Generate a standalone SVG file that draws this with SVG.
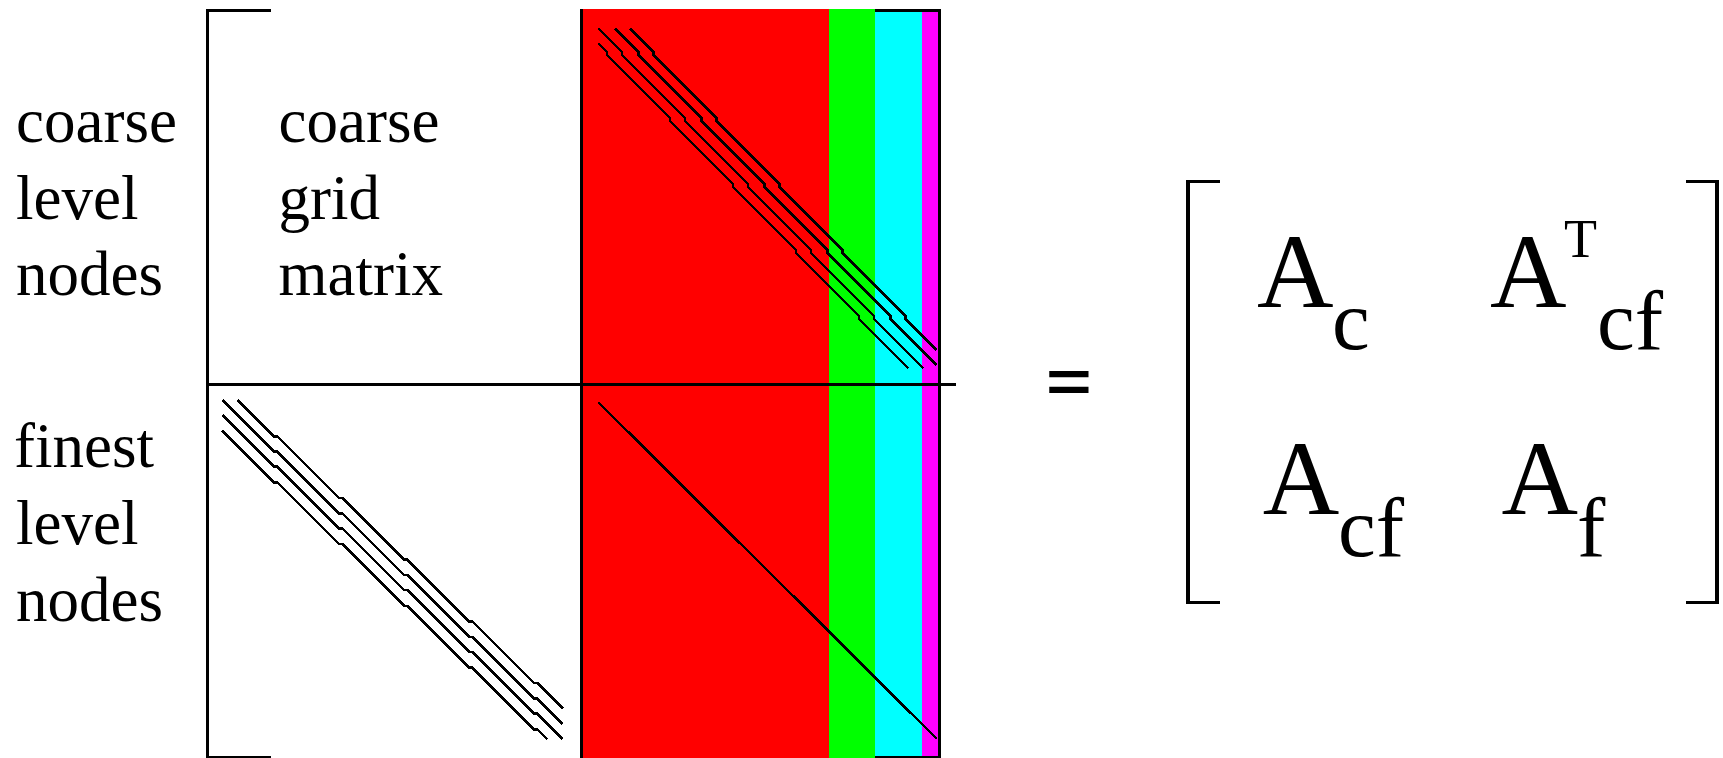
<svg xmlns="http://www.w3.org/2000/svg" width="1723" height="758" viewBox="0 0 1723 758">
<style>
text{font-family:'Liberation Serif','Times New Roman',serif;fill:#000}
.lbl{font-size:63px}
.big{font-size:106px}
.sub{font-size:85px}
.sup{font-size:54px}
.ln{stroke:#000;stroke-width:3;fill:none;shape-rendering:crispEdges}
.br{stroke:#000;stroke-width:3.3;fill:none;shape-rendering:crispEdges}
.sp{stroke:#000;stroke-width:2.6;fill:none;stroke-linejoin:miter;shape-rendering:crispEdges}
</style>
<rect width="1723" height="758" fill="#fff"/>
<g id="labels-left">
<text class="lbl" x="16" y="142">coarse</text>
<text class="lbl" x="16" y="218.5">level</text>
<text class="lbl" x="16" y="295">nodes</text>
<text class="lbl" x="14" y="467">finest</text>
<text class="lbl" x="16" y="544">level</text>
<text class="lbl" x="16" y="621">nodes</text>
</g>
<g id="coarse-block">
<text class="lbl" x="278.5" y="142">coarse</text>
<text class="lbl" x="278.5" y="218.5">grid</text>
<text class="lbl" x="278.5" y="295">matrix</text>
</g>
<g id="color-columns" shape-rendering="crispEdges">
<rect x="583" y="9" width="246" height="749" fill="#ff0000"/>
<rect x="829" y="9" width="46" height="749" fill="#00ff00"/>
<rect x="875" y="12" width="47" height="746" fill="#00ffff"/>
<rect x="922" y="12" width="16" height="746" fill="#ff00ff"/>
</g>
<g id="sparsity">
<path class="sp" d="M630,28.3 L653.7,52 v3 l63,63 v3 l63,63 v3 l63,63 v3 l63,63 v3 l31,31"/>
<path class="sp" d="M615,28.3 L638.7,52 v3 l63,63 v3 l63,63 v3 l63,63 v3 l63,63 v3 l46,46"/>
<path class="sp" d="M598.3,28.3 L622,52 v3 l63,63 v3 l63,63 v3 l63,63 v3 l63,63 v3 l49.3,49.3"/>
<path class="sp" d="M598.3,43.3 L607,52 v3 l63,63 v3 l63,63 v3 l63,63 v3 l63,63 v3 l49.3,49.3"/>
<path class="sp" d="M237.7,400 L274,436.3 h3.3 l61.7,61.7 h3.3 l61.7,61.7 h3.3 l61.7,61.7 h3.3 l61.7,61.7 h3.3 l25.4,25.4"/>
<path class="sp" d="M222.3,400 L274,451.7 h3.3 l61.7,61.7 h3.3 l61.7,61.7 h3.3 l61.7,61.7 h3.3 l61.7,61.7 h3.3 l25.4,25.4"/>
<path class="sp" d="M222.3,415 L274,466.7 h3.3 l61.7,61.7 h3.3 l61.7,61.7 h3.3 l61.7,61.7 h3.3 l61.7,61.7 h3.3 l25.4,25.4"/>
<path class="sp" d="M222.3,430.7 L274,482.4 h3.3 l61.7,61.7 h3.3 l61.7,61.7 h3.3 l61.7,61.7 h3.3 l61.7,61.7 h3.3 l9.8,9.8"/>
<path class="sp" d="M598.3,402.3 L937,739"/>
</g>
<g id="frame">
<path class="ln" d="M271,10.5 H207.5 V757.5 H271"/>
<path class="ln" d="M206,384 H956"/>
<path class="ln" d="M581.5,9 V758"/>
<path class="ln" d="M939.5,9 V758"/>
<path class="ln" d="M875,10.5 H941"/>
<path class="ln" d="M875,757.5 H941"/>
</g>
<g id="equals">
<text transform="translate(1046,401) scale(1.35,1)" x="0" y="0" style="font-family:'Liberation Sans',Arial,sans-serif;font-weight:bold;font-size:58px">=</text>
</g>
<g id="matrix-rhs">
<path class="br" d="M1220.4,181.7 H1188 V602.3 H1220.4"/>
<path class="br" d="M1685.5,181.7 H1717 V602.3 H1685.5"/>
<text class="big" x="1257" y="306.7">A</text>
<text class="sub" x="1332" y="349">c</text>
<text class="big" x="1490" y="306.7">A</text>
<text class="sup" x="1564" y="257.3">T</text>
<text class="sub" x="1597" y="349">cf</text>
<text class="big" x="1262.7" y="514">A</text>
<text class="sub" x="1338" y="556">cf</text>
<text class="big" x="1501.5" y="514">A</text>
<text class="sub" x="1577" y="556">f</text>
</g>
</svg>
